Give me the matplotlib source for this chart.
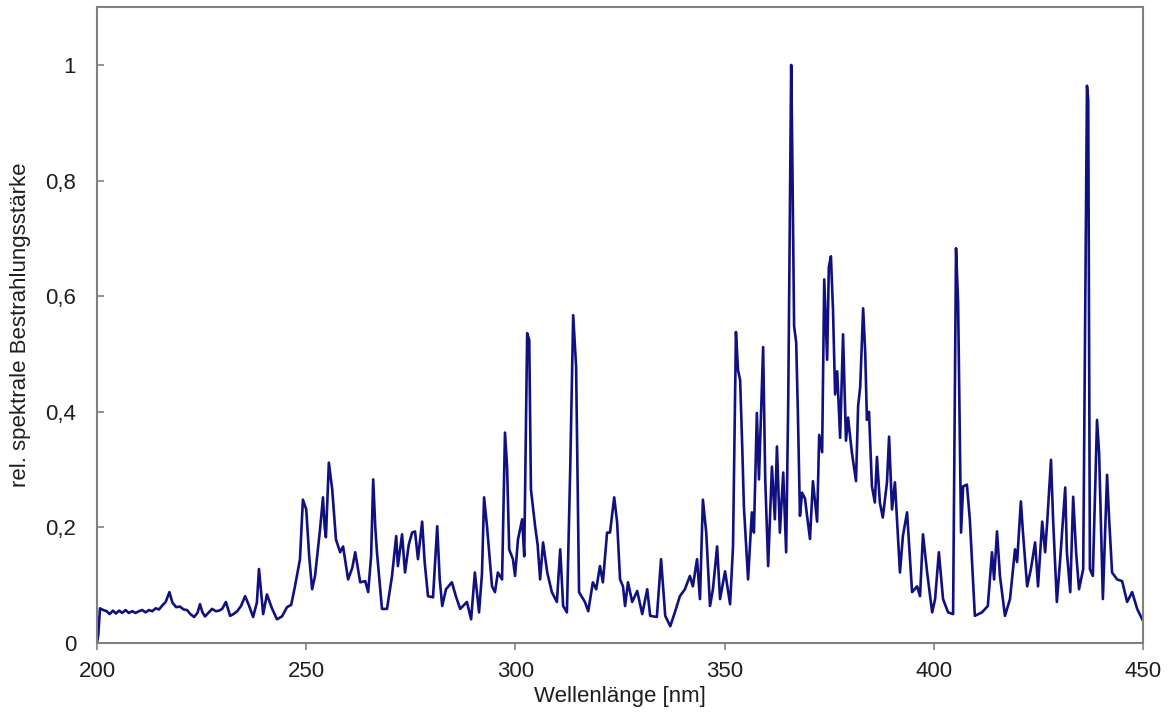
import matplotlib
matplotlib.use('Agg')
import matplotlib.pyplot as plt

plt.rcParams['font.family'] = ['Liberation Sans', 'DejaVu Sans']

# spectrum (wavelength in nm, relative irradiance)
wavelength = [
    200.0, 200.3, 200.7, 201.5, 202.3, 203.0, 203.8, 204.5, 205.3, 206.0, 206.8, 207.6, 208.4, 209.2,
    210.0, 210.8, 211.6, 212.4, 213.2, 214.0, 214.8, 215.6, 216.4, 217.3, 218.0, 218.9, 219.8, 220.7,
    221.5, 222.3, 223.2, 224.0, 224.6, 225.2, 225.8, 226.6, 227.5, 228.4, 229.2, 229.9, 230.8, 231.8,
    232.6, 233.5, 234.4, 235.4, 236.3, 237.3, 238.2, 238.7, 239.2, 239.7, 240.6, 241.8, 243.0, 244.2,
    245.4, 246.4, 247.3, 248.5, 249.2, 250.0, 250.7, 251.4, 252.1, 253.3, 254.0, 254.4, 254.7, 255.4,
    256.2, 257.1, 258.1, 258.8, 260.0, 261.0, 261.7, 262.9, 264.1, 264.8, 265.5, 266.0, 266.5, 266.9,
    268.1, 269.3, 270.5, 271.5, 271.9, 272.9, 273.6, 274.5, 275.3, 276.0, 276.7, 277.7, 278.3, 279.1,
    280.3, 281.3, 281.9, 282.5, 283.4, 284.8, 285.8, 286.8, 287.6, 288.4, 289.4, 290.3, 291.3, 292.0,
    292.5, 293.2, 294.4, 295.1, 295.8, 296.8, 297.5, 298.0, 298.5, 299.4, 299.9, 300.6, 301.6, 302.1,
    302.8, 303.3, 303.7, 304.7, 305.3, 305.9, 306.6, 307.6, 308.7, 309.9, 310.7, 311.4, 312.3, 313.1,
    313.8, 314.5, 315.2, 316.6, 317.4, 318.5, 319.3, 320.2, 320.9, 321.9, 322.6, 323.6, 324.3, 325.0,
    325.7, 326.2, 326.9, 327.9, 329.1, 330.3, 331.5, 332.2, 333.8, 334.8, 335.8, 337.0, 338.1, 339.3,
    340.5, 341.7, 342.4, 343.4, 344.1, 344.8, 345.6, 346.5, 347.2, 348.2, 348.9, 350.1, 351.3, 352.0,
    352.7, 353.2, 353.7, 354.2, 354.6, 355.6, 356.5, 357.0, 357.7, 358.2, 359.2, 359.7, 360.4, 361.3,
    362.0, 362.5, 363.2, 364.0, 364.7, 365.2, 365.9, 366.1, 366.6, 367.1, 367.5, 368.0, 368.5, 369.2,
    369.7, 370.4, 371.1, 372.1, 372.6, 373.3, 373.8, 374.5, 374.9, 375.4, 375.9, 376.4, 376.9, 377.6,
    378.3, 379.0, 379.5, 380.4, 381.4, 381.9, 382.4, 383.1, 383.6, 384.0, 384.5, 385.2, 385.9, 386.4,
    387.1, 387.8, 388.8, 389.3, 390.0, 390.7, 391.2, 391.9, 392.6, 393.6, 394.8, 396.0, 396.7, 397.4,
    398.4, 399.6, 400.3, 401.2, 402.2, 403.4, 404.6, 405.3, 405.8, 406.5, 407.0, 407.9, 408.6, 409.8,
    411.5, 412.9, 413.9, 414.4, 415.1, 415.8, 417.0, 418.2, 419.4, 419.9, 420.8, 421.3, 422.3, 423.2,
    424.2, 424.9, 425.9, 426.6, 427.1, 428.0, 428.5, 429.4, 430.2, 431.4, 431.8, 432.6, 433.3, 434.0,
    434.7, 435.7, 436.6, 436.9, 437.3, 438.0, 439.0, 439.5, 440.4, 441.4, 441.9, 442.6, 443.8, 445.0,
    446.2, 447.4, 448.6, 449.8, 450.0]

irradiance = [
    0.000, 0.015, 0.060, 0.057, 0.055, 0.050, 0.056, 0.051, 0.056, 0.052, 0.057, 0.052, 0.055, 0.052,
    0.055, 0.057, 0.053, 0.057, 0.055, 0.060, 0.058, 0.065, 0.071, 0.088, 0.070, 0.062, 0.063, 0.058,
    0.057, 0.050, 0.045, 0.052, 0.067, 0.053, 0.046, 0.052, 0.059, 0.055, 0.056, 0.059, 0.071, 0.047,
    0.050, 0.055, 0.064, 0.081, 0.065, 0.045, 0.070, 0.128, 0.090, 0.050, 0.084, 0.060, 0.041, 0.046,
    0.062, 0.066, 0.098, 0.145, 0.248, 0.231, 0.150, 0.093, 0.116, 0.197, 0.252, 0.200, 0.183, 0.312,
    0.266, 0.179, 0.157, 0.167, 0.110, 0.130, 0.157, 0.105, 0.107, 0.088, 0.150, 0.283, 0.200, 0.157,
    0.059, 0.059, 0.116, 0.185, 0.133, 0.188, 0.122, 0.170, 0.191, 0.193, 0.145, 0.210, 0.140, 0.081,
    0.079, 0.202, 0.110, 0.064, 0.093, 0.105, 0.080, 0.059, 0.065, 0.071, 0.041, 0.122, 0.053, 0.120,
    0.252, 0.202, 0.098, 0.088, 0.122, 0.110, 0.364, 0.305, 0.162, 0.145, 0.116, 0.179, 0.214, 0.150,
    0.536, 0.524, 0.266, 0.202, 0.170, 0.110, 0.174, 0.122, 0.088, 0.071, 0.162, 0.064, 0.053, 0.305,
    0.567, 0.478, 0.088, 0.071, 0.055, 0.105, 0.093, 0.133, 0.105, 0.191, 0.191, 0.252, 0.209, 0.110,
    0.098, 0.064, 0.105, 0.071, 0.090, 0.050, 0.093, 0.047, 0.045, 0.145, 0.047, 0.029, 0.053, 0.081,
    0.093, 0.116, 0.098, 0.145, 0.076, 0.248, 0.191, 0.064, 0.093, 0.167, 0.076, 0.124, 0.067, 0.167,
    0.538, 0.472, 0.455, 0.340, 0.236, 0.110, 0.226, 0.191, 0.398, 0.283, 0.512, 0.283, 0.133, 0.305,
    0.214, 0.340, 0.191, 0.295, 0.157, 0.420, 1.000, 0.890, 0.548, 0.520, 0.400, 0.220, 0.260, 0.250,
    0.220, 0.180, 0.280, 0.210, 0.360, 0.330, 0.629, 0.490, 0.650, 0.669, 0.576, 0.430, 0.470, 0.355,
    0.534, 0.350, 0.390, 0.330, 0.280, 0.410, 0.443, 0.579, 0.502, 0.386, 0.400, 0.271, 0.243, 0.322,
    0.243, 0.217, 0.278, 0.357, 0.231, 0.278, 0.214, 0.122, 0.185, 0.226, 0.088, 0.098, 0.081, 0.188,
    0.122, 0.053, 0.076, 0.157, 0.076, 0.053, 0.050, 0.683, 0.588, 0.191, 0.271, 0.274, 0.214, 0.047,
    0.053, 0.064, 0.157, 0.110, 0.193, 0.116, 0.047, 0.076, 0.162, 0.140, 0.245, 0.191, 0.098, 0.128,
    0.174, 0.098, 0.210, 0.157, 0.210, 0.317, 0.214, 0.071, 0.145, 0.269, 0.157, 0.088, 0.253, 0.157,
    0.093, 0.128, 0.964, 0.940, 0.128, 0.116, 0.386, 0.329, 0.076, 0.291, 0.214, 0.122, 0.110, 0.107,
    0.071, 0.088, 0.059, 0.041, 0.038]

y_ticks = [0, 0.2, 0.4, 0.6, 0.8, 1.0]
y_tick_labels = ['0', '0,2', '0,4', '0,6', '0,8', '1']
x_ticks = [200, 250, 300, 350, 400, 450]

fig = plt.figure(figsize=(11.75, 7.15), dpi=100)
ax = fig.add_axes([0.0826, 0.1007, 0.8902, 0.8893])

ax.plot(wavelength, irradiance, color='#101080', linewidth=1.9, solid_joinstyle='round')

ax.set_xlim(200, 450)
ax.set_ylim(0, 1.1)
ax.set_xticks(x_ticks)
ax.set_yticks(y_ticks)
ax.set_yticklabels(y_tick_labels)

for side in ['left', 'right', 'top', 'bottom']:
    ax.spines[side].set_color('#808080')
    ax.spines[side].set_linewidth(1.5)

ax.tick_params(axis='y', direction='in', length=5, width=1.2, color='#808080', pad=15,
               labelsize=16, labelcolor='#1e1e1e')
ax.tick_params(axis='x', direction='out', length=5, width=1.2, color='#808080', pad=8,
               labelsize=16, labelcolor='#1e1e1e')

ax.set_xlabel('Wellenlänge [nm]', fontsize=16, color='#1e1e1e')
ax.set_ylabel('rel. spektrale Bestrahlungsstärke', fontsize=16, color='#1e1e1e')
ax.xaxis.set_label_coords(0.5, -0.068)
ax.yaxis.set_label_coords(-0.063, 0.5)

fig.savefig('out.png', dpi=100)
